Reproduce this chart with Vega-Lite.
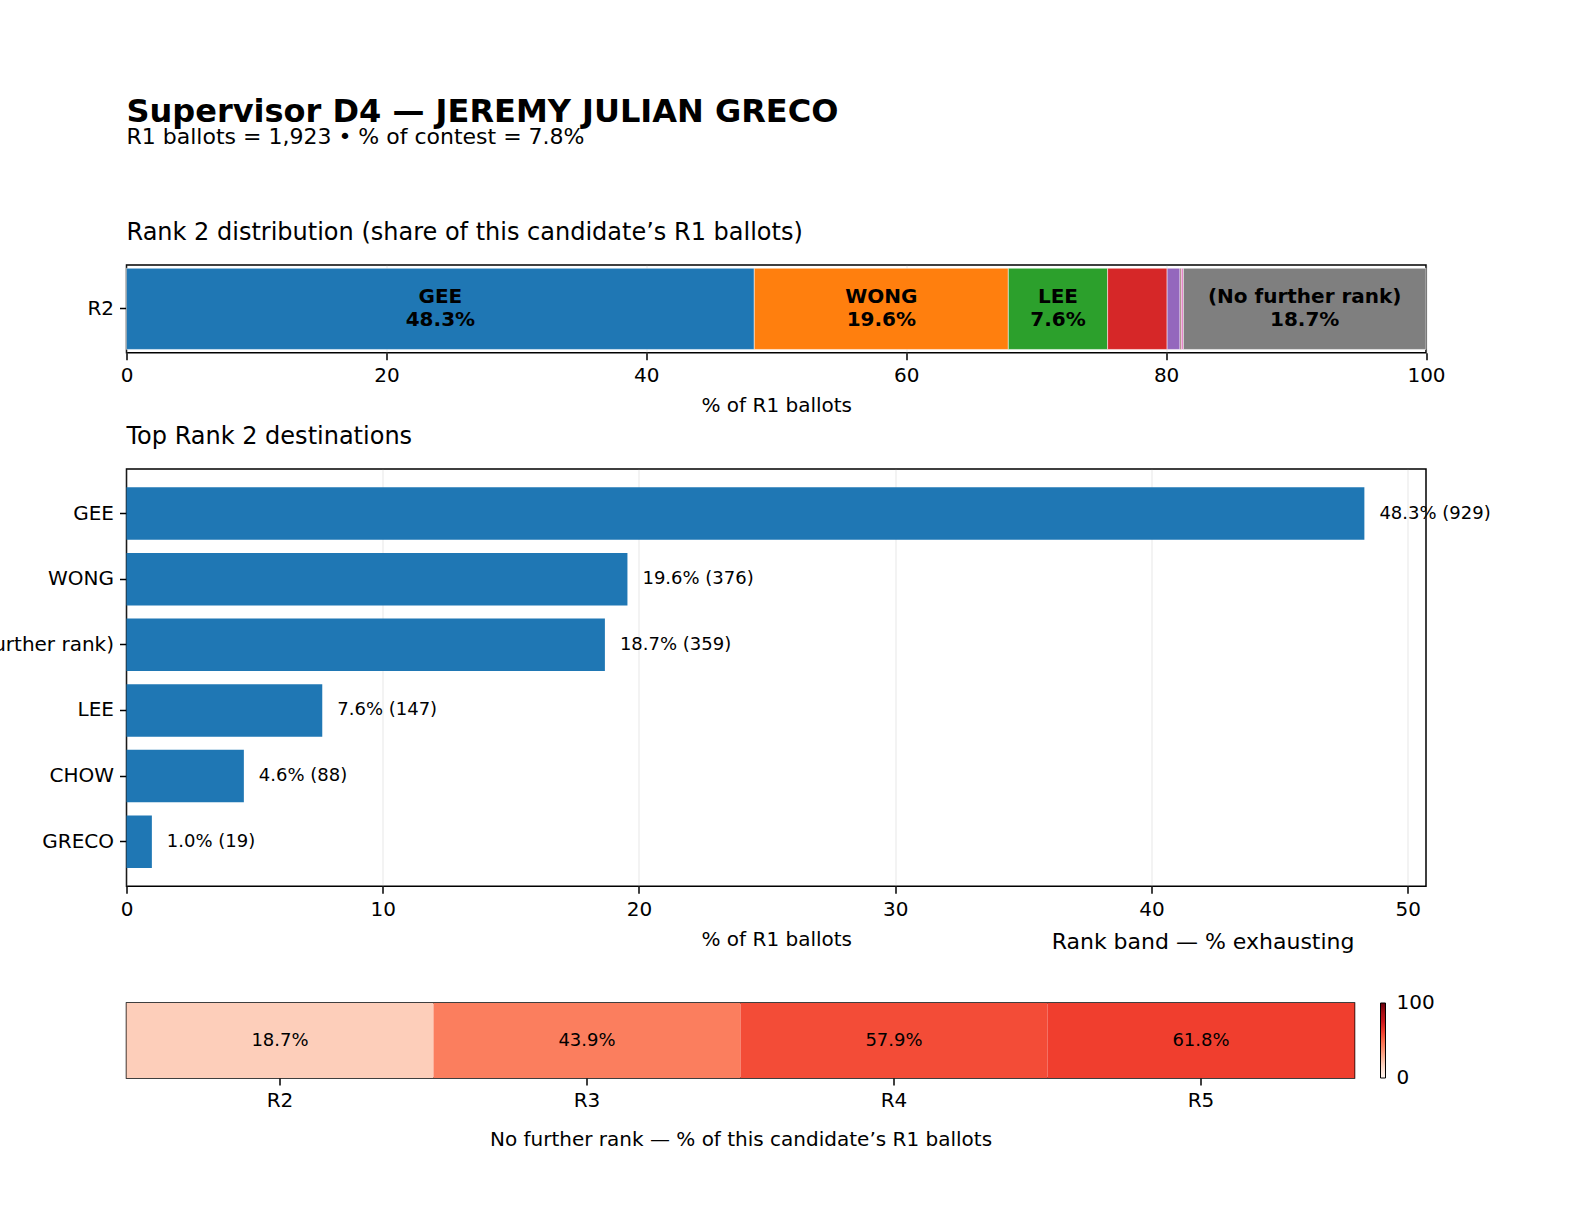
{
  "$schema": "https://vega.github.io/schema/vega-lite/v6.json",
  "autosize": {"type": "none"},
  "padding": {"left": 126.5, "top": 265, "right": 1457.5, "bottom": 959},
  "background": "white",
  "title": {
    "text": "Supervisor D4 — JEREMY JULIAN GRECO",
    "subtitle": "R1 ballots = 1,923 • % of contest = 7.8%",
    "anchor": "start",
    "frame": "group",
    "fontSize": 32,
    "fontWeight": "bold",
    "baseline": "top",
    "subtitleFont": "DejaVu Sans",
    "subtitleFontSize": 22,
    "subtitleColor": "black",
    "subtitlePadding": -2,
    "offset": 71
  },
  "datasets": {
    "rank2": [
      {"candidate": "GEE", "ballots": 929, "pct": 48.31, "order": 1, "round": "R2"},
      {"candidate": "WONG", "ballots": 376, "pct": 19.55, "order": 2, "round": "R2"},
      {"candidate": "LEE", "ballots": 147, "pct": 7.64, "order": 3, "round": "R2"},
      {"candidate": "CHOW", "ballots": 88, "pct": 4.58, "order": 4, "round": "R2"},
      {"candidate": "GRECO", "ballots": 19, "pct": 0.99, "order": 5, "round": "R2"},
      {"candidate": "WRITE-IN", "ballots": 2, "pct": 0.1, "order": 6, "round": "R2"},
      {"candidate": "(Overvote)", "ballots": 3, "pct": 0.16, "order": 7, "round": "R2"},
      {"candidate": "(No further rank)", "ballots": 359, "pct": 18.67, "order": 8, "round": "R2"}
    ],
    "exhaust": [
      {"band": "R2", "pct": 18.7},
      {"band": "R3", "pct": 43.9},
      {"band": "R4", "pct": 57.9},
      {"band": "R5", "pct": 61.8}
    ]
  },
  "config": {
    "font": "DejaVu Sans",
    "view": {"stroke": "black", "strokeWidth": 1.5},
    "axis": {
      "labelFont": "DejaVu Sans",
      "labelFontSize": 20,
      "labelColor": "black",
      "labelPadding": 6,
      "labelFlush": false,
      "titleFont": "DejaVu Sans",
      "titleFontSize": 20,
      "titleFontWeight": "normal",
      "titleColor": "black",
      "titlePadding": 10,
      "tickColor": "black",
      "tickWidth": 1.5,
      "tickSize": 7,
      "domain": false,
      "grid": false,
      "gridColor": "#b0b0b0",
      "gridOpacity": 0.3,
      "gridWidth": 1,
      "zindex": 1
    },
    "title": {
      "font": "DejaVu Sans",
      "fontWeight": "normal",
      "color": "black",
      "anchor": "start",
      "frame": "group",
      "baseline": "alphabetic",
      "offset": 20
    }
  },
  "bounds": "flush",
  "spacing": 116,
  "resolve": {"scale": {"color": "independent"}, "legend": {"color": "independent"}},
  "vconcat": [
    {
      "width": 1299.5,
      "height": 87.7,
      "title": {"text": "Rank 2 distribution (share of this candidate’s R1 ballots)", "fontSize": 24},
      "data": {"name": "rank2"},
      "transform": [
        {"stack": "pct", "groupby": ["round"], "sort": [{"field": "order"}], "as": ["x0", "x1"]}
      ],
      "encoding": {
        "y": {
          "field": "round",
          "type": "nominal",
          "scale": {"paddingInner": 0, "paddingOuter": 0.04},
          "axis": {"title": null}
        }
      },
      "layer": [
        {
          "mark": {"type": "bar", "stroke": "white", "strokeWidth": 0.5},
          "encoding": {
            "x": {
              "field": "x0",
              "type": "quantitative",
              "scale": {"domain": [0, 100], "nice": false},
              "axis": {"values": [0, 20, 40, 60, 80, 100], "title": "% of R1 ballots", "grid": true}
            },
            "x2": {"field": "x1"},
            "color": {
              "field": "candidate",
              "type": "nominal",
              "scale": {
                "domain": ["GEE", "WONG", "LEE", "CHOW", "GRECO", "WRITE-IN", "(Overvote)", "(No further rank)"],
                "range": ["#1f77b4", "#ff7f0e", "#2ca02c", "#d62728", "#9467bd", "#8c564b", "#e377c2", "#7f7f7f"]
              },
              "legend": null
            }
          }
        },
        {
          "transform": [
            {"filter": "datum.pct >= 5"},
            {"calculate": "(datum.x0 + datum.x1) / 2", "as": "mid"},
            {"calculate": "datum.candidate + '\\n' + format(datum.pct, '.1f') + '%'", "as": "label"}
          ],
          "mark": {"type": "text", "fontSize": 20, "fontWeight": "bold", "lineBreak": "\n", "lineHeight": 23.5, "baseline": "middle", "dy": -12, "color": "black"},
          "encoding": {
            "x": {"field": "mid", "type": "quantitative"},
            "text": {"field": "label"}
          }
        }
      ]
    },
    {
      "width": 1299.5,
      "height": 417.3,
      "title": {"text": "Top Rank 2 destinations", "fontSize": 24},
      "data": {"name": "rank2"},
      "transform": [
        {"window": [{"op": "row_number", "as": "rank"}], "sort": [{"field": "pct", "order": "descending"}]},
        {"filter": "datum.rank <= 6"},
        {"calculate": "format(datum.pct, '.1f') + '% (' + datum.ballots + ')'", "as": "label"}
      ],
      "encoding": {
        "y": {
          "field": "candidate",
          "type": "nominal",
          "sort": "-x",
          "scale": {"paddingInner": 0.2, "paddingOuter": 0.28},
          "axis": {"title": null, "labelLimit": 0}
        },
        "x": {
          "field": "pct",
          "type": "quantitative",
          "scale": {"domain": [0, 50.715], "nice": false},
          "axis": {"values": [0, 10, 20, 30, 40, 50], "title": "% of R1 ballots", "grid": true}
        }
      },
      "layer": [
        {"mark": {"type": "bar", "color": "#1f77b4"}},
        {
          "mark": {"type": "text", "align": "left", "baseline": "middle", "dx": 15, "fontSize": 18, "color": "black"},
          "encoding": {"text": {"field": "label"}}
        }
      ]
    },
    {
      "width": 1228,
      "height": 75,
      "title": {"text": "Rank band — % exhausting", "anchor": "end", "fontSize": 22, "offset": 49},
      "data": {"name": "exhaust"},
      "transform": [
        {"calculate": "format(datum.pct, '.1f') + '%'", "as": "label"}
      ],
      "encoding": {
        "x": {
          "field": "band",
          "type": "nominal",
          "sort": null,
          "scale": {"paddingInner": 0, "paddingOuter": 0},
          "axis": {"labelAngle": 0, "labelPadding": 5, "title": "No further rank — % of this candidate’s R1 ballots", "titlePadding": 19}
        }
      },
      "layer": [
        {
          "mark": "rect",
          "encoding": {
            "color": {
              "field": "pct",
              "type": "quantitative",
              "scale": {
                "domain": [0, 12.5, 25, 37.5, 50, 62.5, 75, 87.5, 100],
                "range": ["#fff5f0", "#fee0d2", "#fcbba1", "#fc9272", "#fb6a4a", "#ef3b2c", "#cb181d", "#a50f15", "#67000d"],
                "interpolate": "rgb"
              },
              "legend": {
                "title": null,
                "orient": "right",
                "direction": "vertical",
                "gradientLength": 75,
                "gradientThickness": 5,
                "values": [0, 100],
                "labelFont": "DejaVu Sans",
                "labelFontSize": 20,
                "labelColor": "black",
                "labelOffset": 11,
                "labelBaseline": "middle",
                "gradientStrokeColor": "black",
                "gradientStrokeWidth": 1,
                "offset": 26,
                "padding": 0,
                "encode": {"labels": {"update": {"baseline": {"value": "middle"}}}}
              }
            }
          }
        },
        {
          "mark": {"type": "text", "fontSize": 18, "color": "black"},
          "encoding": {"text": {"field": "label"}}
        }
      ]
    }
  ]
}
